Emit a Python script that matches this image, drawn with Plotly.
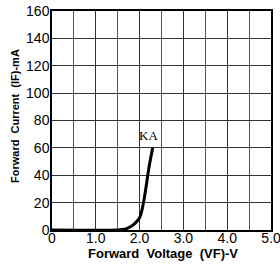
import plotly.graph_objects as go

voltage = [0, 1.5, 1.6, 1.7, 1.8, 1.9, 2.0, 2.05, 2.1, 2.15, 2.2, 2.25, 2.3]
current = [0, 0, 0.3, 1, 2.5, 5, 9, 14, 22, 32, 43, 52, 60]
x_ticks = [0, 1, 2, 3, 4, 5]
x_labels = ["0", "1.0", "2.0", "3.0", "4.0", "5.0"]
y_ticks = [0, 20, 40, 60, 80, 100, 120, 140, 160]
series_label = "KA"
x_title = "Forward  Voltage  (VF)-V"
y_title = "Forward  Current  (IF)-mA"

fig = go.Figure()
fig.add_trace(go.Scatter(x=voltage, y=current, mode="lines",
                         line=dict(color="black", width=3, shape="spline"),
                         showlegend=False, hoverinfo="skip"))
fig.add_annotation(x=2.2, y=69, text=series_label, showarrow=False,
                   font=dict(family="Liberation Serif", size=13, color="black"))

tickfont = dict(family="Liberation Sans", size=14, color="black")

fig.update_xaxes(range=[0, 5], tickvals=x_ticks, ticktext=x_labels,
                 showgrid=True, gridcolor="#333", gridwidth=1,
                 minor=dict(dtick=0.5, showgrid=True, gridcolor="#555", gridwidth=1),
                 showline=True, linecolor="black", linewidth=1.5, mirror=True,
                 ticks="", ticklen=0, tickfont=tickfont, zeroline=False, automargin=False,
                 ticklabeloverflow="allow", ticklabelstandoff=-6)
fig.update_yaxes(range=[0, 160], tickvals=y_ticks,
                 showgrid=True, gridcolor="#333", gridwidth=1,
                 showline=True, linecolor="black", linewidth=1.5, mirror=True,
                 ticks="", ticklen=0, tickfont=tickfont, zeroline=False, automargin=False,
                 ticklabeloverflow="allow", ticklabelstandoff=-2)
fig.add_annotation(xref="paper", yref="paper", x=(163 - 52) / 219, y=-(253 - 230) / 219,
                   text=x_title, showarrow=False, xanchor="center", yanchor="middle",
                   font=dict(family="Liberation Sans", size=13, color="black", weight="bold"))
fig.add_annotation(xref="paper", yref="paper", x=-(52 - 15) / 219, y=(230 - 116) / 219,
                   text=y_title, showarrow=False, xanchor="center", yanchor="middle",
                   textangle=-90,
                   font=dict(family="Liberation Sans", size=11, color="black", weight="bold"))
fig.update_layout(width=280, height=268, margin=dict(l=52, r=9, t=11, b=38),
                  plot_bgcolor="white", paper_bgcolor="white")
fig.write_html("out.html", config={"displayModeBar": False},
               post_script="document.body.style.margin='0';document.body.style.overflow='hidden';")
